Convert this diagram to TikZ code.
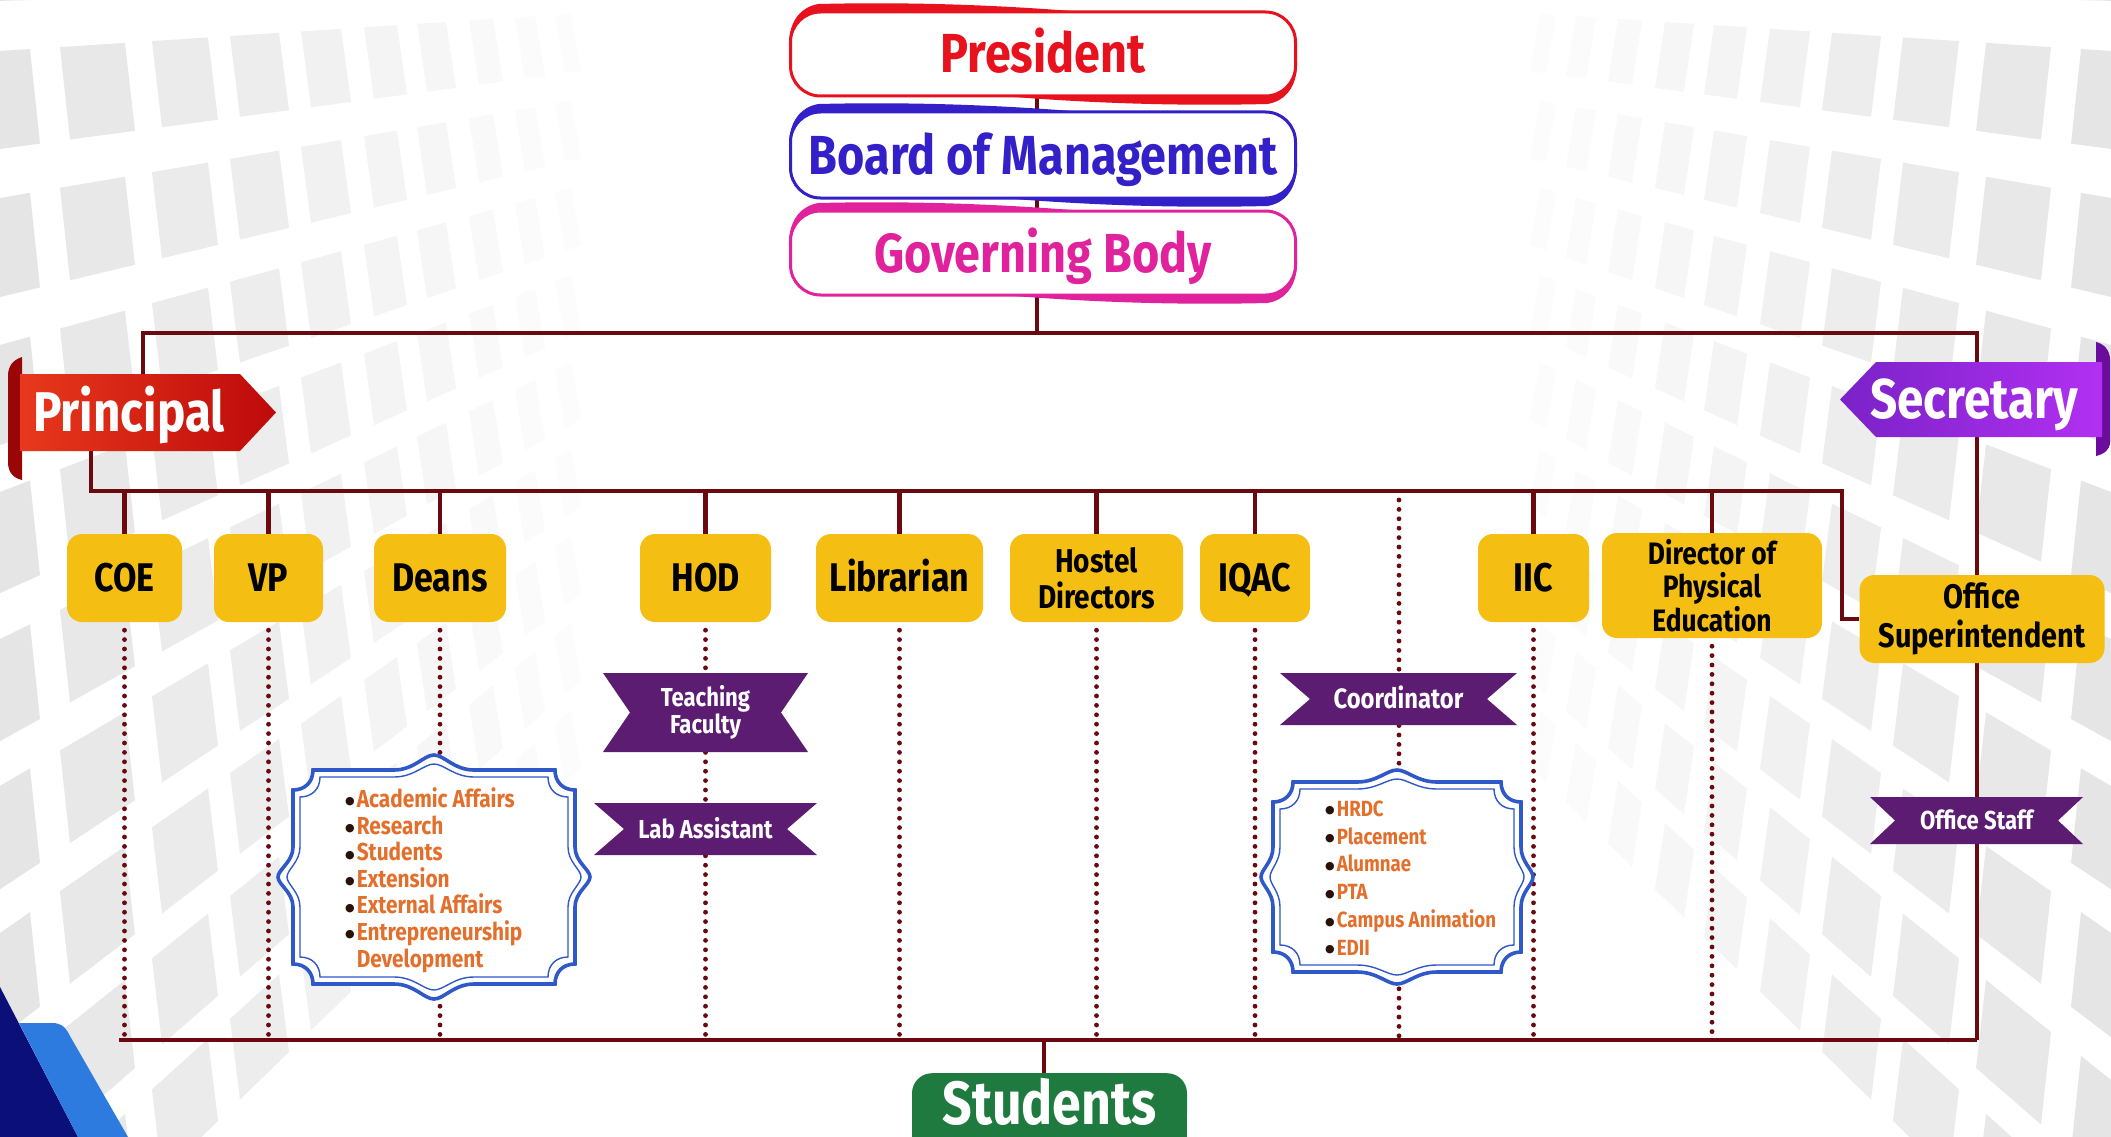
\documentclass[tikz,border=0pt]{standalone}
\usepackage{fontspec}
\setmainfont{Fira Sans}[FakeStretch=0.85]
\newfontfamily\dejavb{DejaVu Sans}
\usetikzlibrary{calc}
\pgfdeclarelayer{bgpat}
\pgfdeclarelayer{background}
\pgfsetlayers{bgpat,background,main}
\definecolor{lin}{HTML}{6B0A0E}
\definecolor{ybg}{HTML}{F5BE12}
\definecolor{ribc}{HTML}{5B1C72}
\definecolor{frm}{HTML}{2F58C8}
\definecolor{orng}{HTML}{E2702C}
\definecolor{studc}{HTML}{1F7A3F}
\definecolor{presc}{HTML}{E8121E}
\definecolor{bomc}{HTML}{3420C8}
\definecolor{gbc}{HTML}{E0229C}
\definecolor{prl}{HTML}{E8381C}
\definecolor{prr}{HTML}{BE0A0A}
\definecolor{prd}{HTML}{9A0606}
\definecolor{sel}{HTML}{7A22C8}
\definecolor{ser}{HTML}{B230F2}
\definecolor{sed}{HTML}{6A0C9C}
\definecolor{navy}{HTML}{0A0F7A}
\definecolor{ltbl}{HTML}{2E7BE0}
\definecolor{bulc}{HTML}{2A1208}

\newcommand\lbul{{\color{bulc}\dejavb\fontsize{11}{12}\selectfont\raisebox{2.5pt}{●}}\hspace{2pt}}
\newcommand\lbulph{\phantom{\dejavb\fontsize{11}{12}\selectfont ●}\hspace{2pt}}

\newcommand\swbox[7]{%
\begin{scope}[shift={(#2,#3)}]
\pgfmathsetmacro\sbw{#4/2}\pgfmathsetmacro\sbh{#5/2}\pgfmathsetmacro\sbq{0.15*#4}
\foreach \rr in {0,180}{
\begin{scope}[rotate=\rr]
\fill[#6] ({-\sbw+6},{\sbh-22}) .. controls ({-\sbw-6},{0}) and ({-\sbw-7},{-\sbh-2}) .. ({-\sbw+28},{-\sbh-8}) .. controls ({-\sbw+150},{-\sbh-11}) and ({0},{-\sbh-4}) .. ({\sbq},{-\sbh+3}) -- ({-\sbw+30},{-\sbh+25}) -- cycle;
\end{scope}}
\end{scope}
\node[topbox, draw=#6, text=#6, minimum width=#4pt, minimum height=#5pt] (#1) at (#2,#3) {#7};}

\newcommand\ribshape[5]{\fill[ribc] (#1,#2) -- (#3,#2) -- ({#3-#5},{(#2+#4)/2}) -- (#3,#4) -- (#1,#4) -- ({#1+#5},{(#2+#4)/2}) -- cycle;}

\newcommand\ornframe[6]{%
\begin{scope}[shift={(#2,#3)}]
\def\ofw{#4}\def\ofh{#5}\def\ofp{#6}\def\ofr{20}\def\ofb{40}\def\ofc{30}
\path[#1] ({-\ofw+\ofr},{-\ofh}) -- ({-\ofb},{-\ofh})
 .. controls ({-\ofb/2},{-\ofh}) and ({-\ofb/4},{-\ofh-\ofp}) .. ({0},{-\ofh-\ofp})
 .. controls ({\ofb/4},{-\ofh-\ofp}) and ({\ofb/2},{-\ofh}) .. ({\ofb},{-\ofh})
 -- ({\ofw-\ofr},{-\ofh})
 .. controls ({\ofw-\ofr},{-\ofh+0.6*\ofr}) and ({\ofw-0.6*\ofr},{-\ofh+\ofr}) .. ({\ofw},{-\ofh+\ofr})
 -- ({\ofw},{-\ofc})
 .. controls ({\ofw},{-\ofc/2}) and ({\ofw+\ofp},{-\ofc/4}) .. ({\ofw+\ofp},{0})
 .. controls ({\ofw+\ofp},{\ofc/4}) and ({\ofw},{\ofc/2}) .. ({\ofw},{\ofc})
 -- ({\ofw},{\ofh-\ofr})
 .. controls ({\ofw-0.6*\ofr},{\ofh-\ofr}) and ({\ofw-\ofr},{\ofh-0.6*\ofr}) .. ({\ofw-\ofr},{\ofh})
 -- ({\ofb},{\ofh})
 .. controls ({\ofb/2},{\ofh}) and ({\ofb/4},{\ofh+\ofp}) .. ({0},{\ofh+\ofp})
 .. controls ({-\ofb/4},{\ofh+\ofp}) and ({-\ofb/2},{\ofh}) .. ({-\ofb},{\ofh})
 -- ({-\ofw+\ofr},{\ofh})
 .. controls ({-\ofw+\ofr},{\ofh-0.6*\ofr}) and ({-\ofw+0.6*\ofr},{\ofh-\ofr}) .. ({-\ofw},{\ofh-\ofr})
 -- ({-\ofw},{\ofc})
 .. controls ({-\ofw},{\ofc/2}) and ({-\ofw-\ofp},{\ofc/4}) .. ({-\ofw-\ofp},{0})
 .. controls ({-\ofw-\ofp},{-\ofc/4}) and ({-\ofw},{-\ofc/2}) .. ({-\ofw},{-\ofc})
 -- ({-\ofw},{-\ofh+\ofr})
 .. controls ({-\ofw+0.6*\ofr},{-\ofh+\ofr}) and ({-\ofw+\ofr},{-\ofh+0.6*\ofr}) .. ({-\ofw+\ofr},{-\ofh})
 -- cycle;
\end{scope}}

\begin{document}
\begin{tikzpicture}[x=1pt,y=-1pt,
 conn/.style={draw=lin, line width=4.2pt},
 dotl/.style={draw=lin, line width=4.8pt, line cap=round, dash pattern=on 0pt off 9.4pt},
 ybox/.style={fill=ybg, rounded corners=15pt, inner sep=0pt, align=center, text=black},
 yone/.style={ybox, font=\bfseries\fontsize{40}{44}\selectfont, text height=27.6pt, text depth=0pt},
 ytwo/.style={ybox, font=\bfseries\fontsize{33}{36}\selectfont},
 ythree/.style={ybox, font=\bfseries\fontsize{31}{33.6}\selectfont},
 yos/.style={ybox, font=\bfseries\fontsize{34}{39}\selectfont},
 topbox/.style={fill=white, rounded corners=30pt, line width=3pt, inner sep=0pt, font=\bfseries\fontsize{55}{60}\selectfont, text height=38pt, text depth=0pt},
 bantxt/.style={text=white, font=\bfseries\fontsize{56}{60}\selectfont, text height=38.6pt, text depth=0pt, inner sep=0pt},
 ribtxt/.style={text=white, font=\bfseries\fontsize{26}{27}\selectfont, align=center, inner sep=0pt},
 ribone/.style={ribtxt, text height=18pt, text depth=0pt},
 listtxt/.style={text=orng, font=\bfseries\fontsize{24.5}{26.6}\selectfont, align=left, inner sep=0pt},
 outerfr/.style={fill=white, draw=frm, line width=3.6pt},
 innerfr/.style={draw=frm, line width=1.4pt},
 studbox/.style={fill=studc, rounded corners=20pt, text=white, font=\bfseries\fontsize{61}{66}\selectfont, text height=42pt, text depth=0pt, minimum width=275pt, minimum height=60pt, anchor=north, inner sep=0pt}
]
\path[use as bounding box] (0,0) rectangle (2111,1137);

% background pattern (perspective squares)
\begin{pgfonlayer}{bgpat}
\fill[white] (0,0) rectangle (2111,1137);
\foreach \cx/\cw/\gi in {-34/64/20, 60/65/18, 152/56/16, 230/49/14, 301/40/11, 364/33/9, 417/29/7, 469/24/5, 515/20/3, 555/16/2}{
 \foreach \j in {-1,...,8}{
  \pgfmathsetmacro\ta{0.065+0.105*\j}
  \pgfmathsetmacro\tb{\ta+0.069}
  \pgfmathsetmacro\ya{-40+(1400-\cx)*\ta}
  \pgfmathsetmacro\yb{-40+(1400-\cx-\cw)*\ta}
  \pgfmathsetmacro\yc{-40+(1400-\cx-\cw)*\tb}
  \pgfmathsetmacro\yd{-40+(1400-\cx)*\tb}
  \pgfmathsetmacro\xr{\cx+\cw}
  \fill[gray!\gi] (\cx,\ya) -- (\xr,\yb) -- ({\xr+10},\yc) -- ({\cx+10},\yd) -- cycle;
  \fill[gray!\gi] ({2111-\cx},\ya) -- ({2111-\xr},\yb) -- ({2101-\xr},\yc) -- ({2101-\cx},\yd) -- cycle;
 }}
\fill[navy] (0,987) -- (78,1137) -- (0,1137) -- cycle;
\fill[ltbl] (19,1023) -- (52,1023) .. controls (62,1023) and (66,1028) .. (70,1036) -- (128,1137) -- (78,1137) -- cycle;
\end{pgfonlayer}

% top boxes
\swbox{pres}{1043}{54}{505}{84}{presc}{President}
\swbox{bom}{1043}{155}{505}{86}{bomc}{Board of Management}
\swbox{gb}{1043}{253}{505}{84}{gbc}{Governing Body}

% banners
\fill[prd] (22,357) .. controls (13,360) and (8,366) .. (8,376) -- (8,462) .. controls (8,472) and (13,478) .. (22,480) -- cycle;
\shade[left color=prl, right color=prr] (20,374) -- (240,374) -- (276,412.5) -- (240,451) -- (20,451) -- cycle;
\node[bantxt, minimum height=77pt] (prin) at (129,412.5) {Principal};

\fill[sed] (2096,342) .. controls (2104,344) and (2110,350) .. (2110,360) -- (2110,442) .. controls (2110,450) and (2104,454) .. (2096,456) -- cycle;
\shade[left color=sel, right color=ser] (1840,399.5) -- (1876,362) -- (2102,362) -- (2102,437) -- (1876,437) -- cycle;
\node[bantxt, minimum height=75pt] (sec) at (1974,399.5) {Secretary};

% yellow boxes
\node[yone, minimum width=115pt, minimum height=88pt] (coe) at (124.5,578) {COE};
\node[yone, minimum width=109pt, minimum height=88pt] (vp) at (268.5,578) {VP};
\node[yone, minimum width=132pt, minimum height=88pt] (deans) at (440,578) {Deans};
\node[yone, minimum width=131pt, minimum height=88pt] (hod) at (705.5,578) {HOD};
\node[yone, minimum width=167pt, minimum height=88pt] (lib) at (899.5,578) {Librarian};
\node[ytwo, minimum width=173pt, minimum height=88pt] (hos) at (1096.5,578) {Hostel\\Directors};
\node[yone, minimum width=110pt, minimum height=88pt] (iqac) at (1255,578) {IQAC};
\node[yone, minimum width=111pt, minimum height=88pt] (iic) at (1533.5,578) {IIC};
\node[ythree, minimum width=220pt, minimum height=105pt] (dpe) at (1712,585.5) {Director of\\Physical\\Education};
\node[yos, minimum width=245pt, minimum height=88pt] (os) at (1982,619) {Office\\Superintendent};

% ribbons
\ribshape{603}{673}{808}{752}{27}
\node[ribtxt] (tf) at (705.5,712.5) {Teaching\\Faculty};
\ribshape{594}{803}{817}{855}{30}
\node[ribone] (la) at (705.5,829) {Lab Assistant};
\ribshape{1280}{673}{1517}{725}{30}
\node[ribone, font=\bfseries\fontsize{28}{30}\selectfont, text height=19.3pt] (coord) at (1398.5,699) {Coordinator};
\ribshape{1870}{797}{2083}{844}{25}
\node[ribone] (ostaff) at (1976.5,820.5) {Office Staff};

% ornamental frames with lists
\ornframe{outerfr}{434}{877}{141}{107}{15}
\ornframe{innerfr}{434}{877}{134}{100}{13}
\node[listtxt, anchor=west] (deanslist) at (345,880) {\lbul Academic Affairs\\\lbul Research\\\lbul Students\\\lbul Extension\\\lbul External Affairs\\\lbul Entrepreneurship\\\lbulph Development};

\ornframe{outerfr}{1397}{877}{124}{95}{12}
\ornframe{innerfr}{1397}{877}{117}{88}{10}
\node[listtxt, anchor=west, font=\bfseries\fontsize{22}{27.8}\selectfont] (iqaclist) at (1325,878) {\lbul HRDC\\\lbul Placement\\\lbul Alumnae\\\lbul PTA\\\lbul Campus Animation\\\lbul EDII};

% students
\fill[studc] (912,1100) rectangle (1187,1160);
\node[studbox] (stud) at (1049.5,1073) {Students};

% connectors
\coordinate (tx) at (1037,0);
\coordinate (tbL) at (143,333);
\coordinate (tbR) at (1977,333);
\coordinate (tbM) at (1037,333);
\coordinate (b2L) at (91,491);
\coordinate (b2R) at (1842,491);
\coordinate (bbL) at (119,1040);
\coordinate (bbR) at (1977,1040);
\coordinate (cdx) at (1399,491);
\coordinate (sx) at (1044,1040);
\begin{pgfonlayer}{background}
\draw[conn] (pres.south -| tx) -- (bom.north -| tx);
\draw[conn] (bom.south -| tx) -- (gb.north -| tx);
\draw[conn] (gb.south -| tx) -- (tbM);
\draw[conn] (tbL |- prin.north) -- (tbL) -- (tbR) -- (bbR);
\draw[conn] (b2L |- prin.south) -- (b2L) -- (b2R) |- (os.west);
\foreach \n in {coe,vp,deans,hod,lib,hos,iqac,iic,dpe}{
  \draw[conn] (\n.north |- b2L) -- (\n.north);
  \draw[dotl] ($(\n.south)+(0,8)$) -- (\n.south |- bbL);
}
\draw[dotl] ($(cdx)+(0,9)$) -- (cdx |- bbL);
\draw[conn] (bbL) -- (bbR);
\draw[conn] (sx) -- (sx |- stud.north);
\end{pgfonlayer}
\end{tikzpicture}
\end{document}
